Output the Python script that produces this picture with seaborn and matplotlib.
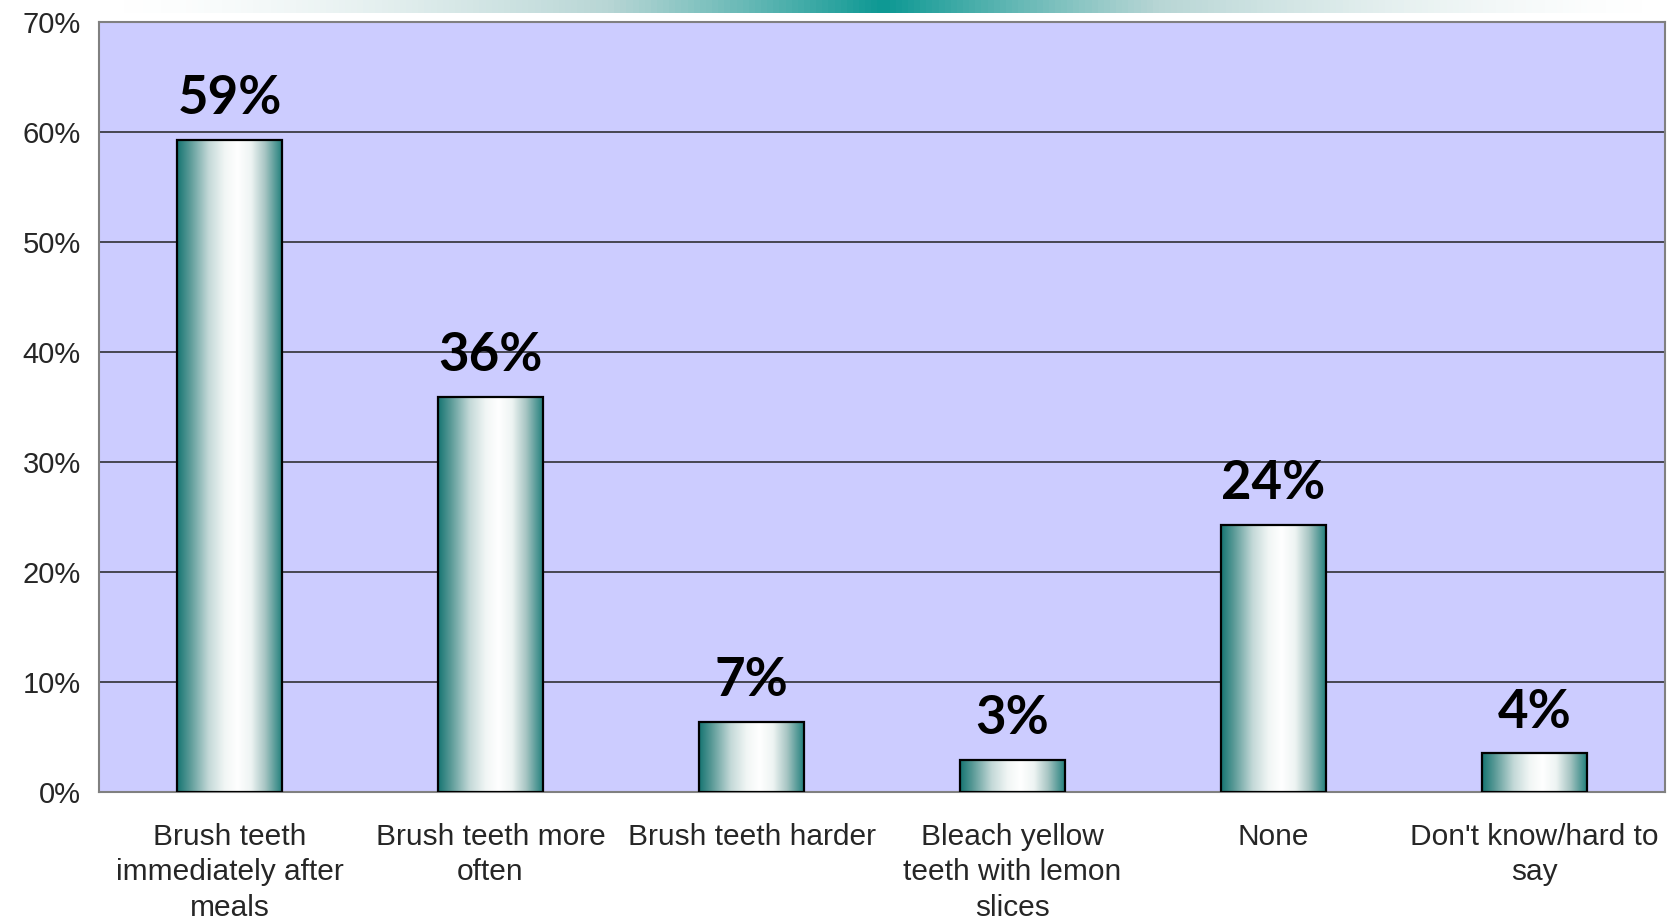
import numpy as np
import pandas as pd
import matplotlib
matplotlib.use("Agg")
from matplotlib import pyplot as plt
from matplotlib.colors import LinearSegmentedColormap
import seaborn as sns

# Данные графика
categories = ["Brush teeth\nimmediately after\nmeals", "Brush teeth more\noften",
              "Brush teeth harder", "Bleach yellow\nteeth with lemon\nslices",
              "None", "Don't know/hard to\nsay"]
values = [59.3, 35.9, 6.4, 2.9, 24.3, 3.5]
value_labels = ["59%", "36%", "7%", "3%", "24%", "4%"]
y_ticks = [0, 10, 20, 30, 40, 50, 60, 70]

df = pd.DataFrame({"cat": categories, "val": values})

sns.set_style("white")
plt.rcParams['font.family'] = ['Liberation Sans', 'DejaVu Sans']

fig = plt.figure(figsize=(16.67, 9.16), dpi=100)
ax = fig.add_axes([0.0594, 0.1354, 0.9394, 0.8406])
ax.set_facecolor("#ccccff")

sns.barplot(data=df, x="cat", y="val", ax=ax, width=0.405,
            color="#cfe0df", edgecolor="black", linewidth=1.6, zorder=3)

# Градиентная заливка столбцов
cmap = LinearSegmentedColormap.from_list("tube", [
    (0.0, "#167572"), (0.12, "#5a9a97"), (0.3, "#c4d9d8"), (0.45, "#f1f6f5"),
    (0.57, "#ffffff"), (0.7, "#eef4f3"), (0.83, "#a9c6c4"), (1.0, "#1d7d79")])
grad = np.linspace(0, 1, 256).reshape(1, -1)
for p in ax.patches:
    x0, y0 = p.get_x(), p.get_y()
    w, h = p.get_width(), p.get_height()
    im = ax.imshow(grad, cmap=cmap, aspect="auto", extent=[x0, x0 + w, y0, y0 + h],
                   zorder=3.5, interpolation="bicubic")
    im.set_clip_path(p)
    p.set_facecolor("none")
    p.set_zorder(4)

ax.set_xlim(-0.5, len(categories) - 0.5)
ax.set_ylim(0, 70)

# Подписи значений
for i, (v, lab) in enumerate(zip(values, value_labels)):
    ax.annotate(lab, (i, v), xytext=(0, 12), textcoords="offset points",
                ha="center", va="bottom", fontsize=38, fontweight="bold",
                family=["Lato", "DejaVu Sans"], color="black", zorder=5)

# Сетка и оси
ax.set_yticks(y_ticks)
ax.set_yticklabels([f"{t}%" for t in y_ticks], fontsize=21)
for t in y_ticks[1:-1]:
    ax.axhline(t, color="#222222", lw=1.1, zorder=1)
ax.set_xticks(range(len(categories)))
ax.set_xticklabels(categories, fontsize=21.5, linespacing=1.35)
ax.set_xticks(np.arange(-0.5, len(categories)), minor=True)
ax.tick_params(axis="x", which="major", length=0, pad=22)
ax.tick_params(axis="x", which="minor", length=9, color="#777777", width=1.2, direction="out")
ax.tick_params(axis="y", length=7, color="#777777", width=1.2, direction="out", pad=6)
ax.set_xlabel("")
ax.set_ylabel("")
for s in ax.spines.values():
    s.set_color("#808080")
    s.set_linewidth(1.5)
    s.set_visible(True)

# Полоса заголовка сверху
bax = fig.add_axes([0.06, 0.986, 0.94, 0.014])
band = np.concatenate([np.linspace(0, 1, 128), np.linspace(1, 0, 128)]) ** 1.6
band_cmap = LinearSegmentedColormap.from_list("band", ["#ffffff", "#b8d6d5", "#0e9994"])
bax.imshow(band.reshape(1, -1), cmap=band_cmap, aspect="auto", extent=[0, 1, 0, 1])
bax.axis("off")

plt.savefig("out.png", dpi=100, facecolor="white")
